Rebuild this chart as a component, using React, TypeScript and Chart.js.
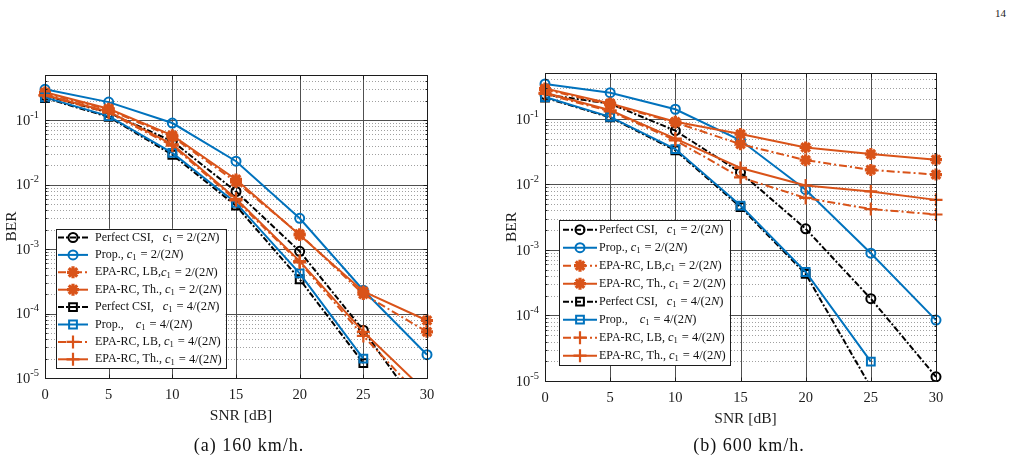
import { useEffect, useRef } from "react";
import { Chart, registerables } from "chart.js";
import { drawPoint } from "chart.js/helpers";

Chart.register(...registerables);

// ---- axes ----
const snrDb = [0, 5, 10, 15, 20, 25, 30];
const snrTicks = [0, 5, 10, 15, 20, 25, 30];
const berDecades = [-5, -4, -3, -2, -1];
const BER_MIN = 1e-5;
const BER_MAX = 0.5;

// ---- (a) 160 km/h ----
const perfectCsiC2At160 = [0.24, 0.13, 0.047, 0.0078, 9.2e-4, 5.5e-5, 2.3e-6];
const propC2At160 = [0.3, 0.19, 0.09, 0.023, 3.0e-3, 2.3e-4, 2.3e-5];
const epaLbC2At160 = [0.26, 0.145, 0.055, 0.011, 1.7e-3, 2.0e-4, 5.2e-5];
const epaThC2At160 = [0.27, 0.15, 0.058, 0.012, 1.65e-3, 2.2e-4, 7.8e-5];
const perfectCsiC4At160 = [0.22, 0.112, 0.029, 0.0047, 3.4e-4, 1.7e-5, null];
const propC4At160 = [0.225, 0.115, 0.031, 0.0052, 4.2e-4, 2.0e-5, null];
const epaLbC4At160 = [0.24, 0.13, 0.04, 0.0057, 6.2e-4, 4.5e-5, 4.0e-6];
const epaThC4At160 = [0.245, 0.135, 0.042, 0.006, 6.5e-4, 5.2e-5, 5.9e-6];

// ---- (b) 600 km/h ----
const perfectCsiC2At600 = [0.235, 0.17, 0.066, 0.0152, 0.0021, 1.8e-4, 1.16e-5];
const propC2At600 = [0.34, 0.25, 0.14, 0.047, 0.0083, 8.9e-4, 8.5e-5];
const epaLbC2At600 = [0.28, 0.165, 0.088, 0.041, 0.0234, 0.0166, 0.0141];
const epaThC2At600 = [0.29, 0.172, 0.09, 0.0585, 0.0366, 0.029, 0.0238];
const perfectCsiC4At600 = [0.21, 0.105, 0.033, 0.0045, 4.3e-4, 8e-6, null];
const propC4At600 = [0.215, 0.107, 0.0346, 0.00475, 4.6e-4, 1.97e-5, null];
const epaLbC4At600 = [0.24, 0.13, 0.047, 0.0128, 0.0062, 0.0042, 0.00347];
const epaThC4At600 = [0.25, 0.135, 0.05, 0.0178, 0.0096, 0.0078, 0.0058];

// ---- legend entries ----
const legendNames = [
  "Perfect CSI,   ",
  "Prop., ",
  "EPA-RC, LB,",
  "EPA-RC, Th., ",
  "Perfect CSI,   ",
  "Prop.,    ",
  "EPA-RC, LB, ",
  "EPA-RC, Th., ",
];
const legendCoefs = ["2", "2", "2", "2", "4", "4", "4", "4"];

const captionA = "(a) 160 km/h.";
const captionB = "(b) 600 km/h.";
const pageNumber = "14";

const SERIF = "'Liberation Serif', 'Times New Roman', serif";
const INK = "#1c1c1c";
const BLUE = "#0072BD";
const ORANGE = "#D95319";
const BLACK = "#000000";

type Marker = "circle" | "rect" | "star" | "cross";
interface SeriesStyle {
  color: string;
  dash: number[];
  marker: Marker;
}

const BLACK_DASH = [6, 2, 2, 2];
const ORANGE_DASH = [8, 3, 2, 3];

const seriesStyles: SeriesStyle[] = [
  { color: BLACK, dash: BLACK_DASH, marker: "circle" },
  { color: BLUE, dash: [], marker: "circle" },
  { color: ORANGE, dash: ORANGE_DASH, marker: "star" },
  { color: ORANGE, dash: [], marker: "star" },
  { color: BLACK, dash: BLACK_DASH, marker: "rect" },
  { color: BLUE, dash: [], marker: "rect" },
  { color: ORANGE, dash: ORANGE_DASH, marker: "cross" },
  { color: ORANGE, dash: [], marker: "cross" },
];

const markerRadius: Record<Marker, number> = { circle: 4.5, rect: 5.5, star: 6, cross: 6.5 };
const markerLine: Record<Marker, number> = { circle: 2, rect: 2, star: 3.2, cross: 2.2 };

interface LegendLayout {
  dx: number;
  bottomGap: number;
  rowH: number;
  padY: number;
  sampleX: number;
  sampleLen: number;
  textX: number;
}

interface PanelConfig {
  series: (number | null)[][];
  caption: string;
  left: number;
  width: number;
  height: number;
  padding: { left: number; top: number; right: number; bottom: number };
  legend: LegendLayout;
  captionX: number;
}

// Writes "name c1 = k/(2N)" with the math part in italics; returns the end x.
function legendLabel(
  ctx: CanvasRenderingContext2D,
  x: number,
  y: number,
  name: string,
  coef: string,
  draw: boolean
): number {
  const put = (txt: string, font: string, dy = 0) => {
    ctx.font = font;
    if (draw) ctx.fillText(txt, x, y + dy);
    x += ctx.measureText(txt).width;
  };
  put(name, `12px ${SERIF}`);
  put("c", `italic 12.5px ${SERIF}`);
  put("1", `8.5px ${SERIF}`, 3);
  x += 1;
  put(` = ${coef}/(2`, `12.5px ${SERIF}`);
  put("N", `italic 12.5px ${SERIF}`);
  put(")", `12.5px ${SERIF}`);
  return x;
}

function makeFigurePlugin(cfg: PanelConfig) {
  return {
    id: "berFigure",
    beforeDatasetsDraw(chart: any) {
      const { ctx, chartArea: a, scales } = chart;
      const ys = scales.y;
      const xs = scales.x;
      ctx.save();
      ctx.lineWidth = 1;
      // minor decade lines, dotted
      ctx.strokeStyle = "#a0a0a0";
      ctx.setLineDash([1, 2]);
      ctx.beginPath();
      for (const e of berDecades) {
        for (let m = 2; m <= 9; m++) {
          const v = m * Math.pow(10, e);
          if (v >= BER_MAX) continue;
          const py = Math.round(ys.getPixelForValue(v)) + 0.5;
          ctx.moveTo(a.left, py);
          ctx.lineTo(a.right, py);
        }
      }
      ctx.stroke();
      // major lines, solid
      ctx.setLineDash([]);
      ctx.strokeStyle = "#505050";
      ctx.beginPath();
      for (const e of berDecades) {
        const py = Math.round(ys.getPixelForValue(Math.pow(10, e))) + 0.5;
        ctx.moveTo(a.left, py);
        ctx.lineTo(a.right, py);
      }
      for (const t of snrTicks) {
        const px = Math.round(xs.getPixelForValue(t)) + 0.5;
        ctx.moveTo(px, a.top);
        ctx.lineTo(px, a.bottom);
      }
      ctx.stroke();
      ctx.restore();
    },
    afterDatasetsDraw(chart: any) {
      const { ctx, chartArea: a, scales } = chart;
      const ys = scales.y;
      const xs = scales.x;
      ctx.save();

      // axes box and inward ticks
      const L = Math.round(a.left) + 0.5;
      const R = Math.round(a.right) + 0.5;
      const T = Math.round(a.top) + 0.5;
      const B = Math.round(a.bottom) + 0.5;
      ctx.strokeStyle = INK;
      ctx.lineWidth = 1;
      ctx.setLineDash([]);
      ctx.beginPath();
      ctx.rect(L, T, R - L, B - T);
      for (const t of snrTicks) {
        const px = Math.round(xs.getPixelForValue(t)) + 0.5;
        ctx.moveTo(px, B);
        ctx.lineTo(px, B - 4);
        ctx.moveTo(px, T);
        ctx.lineTo(px, T + 4);
      }
      for (const e of berDecades) {
        for (let m = 1; m <= 9; m++) {
          const v = m * Math.pow(10, e);
          if (v >= BER_MAX) continue;
          const len = m === 1 ? 4 : 2;
          const py = Math.round(ys.getPixelForValue(v)) + 0.5;
          ctx.moveTo(L, py);
          ctx.lineTo(L + len, py);
          ctx.moveTo(R, py);
          ctx.lineTo(R - len, py);
        }
      }
      ctx.stroke();

      // tick labels
      ctx.fillStyle = INK;
      ctx.textBaseline = "middle";
      ctx.textAlign = "center";
      ctx.font = `14.5px ${SERIF}`;
      for (const t of snrTicks) {
        ctx.fillText(String(t), xs.getPixelForValue(t), a.bottom + 17);
      }
      ctx.textAlign = "left";
      for (const e of berDecades) {
        const py = ys.getPixelForValue(Math.pow(10, e));
        const sup = String(e);
        ctx.font = `10.5px ${SERIF}`;
        const supW = ctx.measureText(sup).width;
        ctx.font = `14.5px ${SERIF}`;
        const baseW = ctx.measureText("10").width;
        const xr = a.left - 6;
        ctx.fillText("10", xr - supW - baseW, py + 1);
        ctx.font = `10.5px ${SERIF}`;
        ctx.fillText(sup, xr - supW, py - 5);
      }

      // axis titles
      ctx.font = `15.5px ${SERIF}`;
      ctx.textAlign = "center";
      ctx.fillText("SNR [dB]", (a.left + a.right) / 2 + 5, a.bottom + 38);
      ctx.save();
      ctx.translate(a.left - 33, (a.top + a.bottom) / 2);
      ctx.rotate(-Math.PI / 2);
      ctx.fillText("BER", 0, 0);
      ctx.restore();

      // legend
      const lg = cfg.legend;
      const rows = chart.data.datasets.length;
      const boxH = lg.padY * 2 + lg.rowH * (rows - 1);
      const boxL = a.left + lg.dx;
      const boxB = a.bottom - lg.bottomGap;
      const boxT = boxB - boxH;
      ctx.textAlign = "left";
      ctx.textBaseline = "middle";
      let maxEnd = 0;
      for (let i = 0; i < rows; i++) {
        maxEnd = Math.max(maxEnd, legendLabel(ctx, boxL + lg.textX, 0, legendNames[i], legendCoefs[i], false));
      }
      const boxW = maxEnd - boxL + 4;
      ctx.fillStyle = "#ffffff";
      ctx.fillRect(boxL, boxT, boxW, boxH);
      ctx.strokeStyle = INK;
      ctx.lineWidth = 1;
      ctx.strokeRect(Math.round(boxL) + 0.5, Math.round(boxT) + 0.5, Math.round(boxW), Math.round(boxH));
      for (let i = 0; i < rows; i++) {
        const st = seriesStyles[i];
        const cy = boxT + lg.padY + i * lg.rowH;
        const x0 = boxL + lg.sampleX;
        const x1 = x0 + lg.sampleLen;
        ctx.strokeStyle = st.color;
        ctx.lineWidth = 2;
        ctx.setLineDash(st.dash);
        ctx.beginPath();
        ctx.moveTo(x0, cy);
        ctx.lineTo(x1, cy);
        ctx.stroke();
        ctx.setLineDash([]);
        ctx.lineWidth = markerLine[st.marker];
        ctx.fillStyle = "rgba(0,0,0,0)";
        drawPoint(
          ctx,
          { pointStyle: st.marker, radius: markerRadius[st.marker], rotation: 0, borderWidth: markerLine[st.marker] } as any,
          (x0 + x1) / 2,
          cy
        );
        ctx.fillStyle = "#111111";
        legendLabel(ctx, boxL + lg.textX, cy, legendNames[i], legendCoefs[i], true);
      }

      // sub-figure caption
      ctx.fillStyle = "#111111";
      ctx.textAlign = "center";
      ctx.font = `18px ${SERIF}`;
      (ctx as any).letterSpacing = "1px";
      ctx.fillText(cfg.caption, cfg.captionX, 446);
      (ctx as any).letterSpacing = "0px";

      ctx.restore();
    },
  };
}

function BerPanel({ cfg }: { cfg: PanelConfig }) {
  const ref = useRef<HTMLCanvasElement>(null);
  useEffect(() => {
    const canvas = ref.current;
    if (!canvas) return;
    const chart = new Chart(canvas, {
      type: "line",
      data: {
        datasets: cfg.series.map((vals, i) => {
          const st = seriesStyles[i];
          return {
            label: `${legendNames[i].trim()} c1 = ${legendCoefs[i]}/(2N)`,
            data: snrDb.map((x, k) => ({ x, y: vals[k] })),
            borderColor: st.color,
            borderWidth: 2,
            borderDash: st.dash,
            pointStyle: st.marker,
            pointRadius: markerRadius[st.marker],
            pointHoverRadius: markerRadius[st.marker],
            pointBorderWidth: markerLine[st.marker],
            pointBorderColor: st.color,
            pointBackgroundColor: "rgba(0,0,0,0)",
            fill: false,
            tension: 0,
            spanGaps: false,
            order: -i,
            clip: { left: 10, right: 10, top: 10, bottom: 1 },
          } as any;
        }),
      },
      options: {
        animation: false,
        responsive: false,
        maintainAspectRatio: false,
        events: [],
        layout: { padding: cfg.padding },
        plugins: {
          legend: { display: false },
          tooltip: { enabled: false },
          title: { display: false },
        },
        scales: {
          x: { type: "linear", min: 0, max: 30, display: false },
          y: { type: "logarithmic", min: BER_MIN, max: BER_MAX, display: false },
        },
      },
      plugins: [makeFigurePlugin(cfg)],
    });
    return () => chart.destroy();
  }, [cfg]);
  return (
    <canvas
      ref={ref}
      width={cfg.width}
      height={cfg.height}
      style={{ position: "absolute", left: cfg.left, top: 0, width: cfg.width, height: cfg.height }}
    />
  );
}

const panelA: PanelConfig = {
  series: [
    perfectCsiC2At160,
    propC2At160,
    epaLbC2At160,
    epaThC2At160,
    perfectCsiC4At160,
    propC4At160,
    epaLbC4At160,
    epaThC4At160,
  ],
  caption: captionA,
  left: 0,
  width: 500,
  height: 463,
  padding: { left: 45, top: 75, right: 73, bottom: 85 },
  legend: { dx: 11, bottomGap: 10, rowH: 17.4, padY: 8.7, sampleX: 2, sampleLen: 30, textX: 39 },
  captionX: 249,
};

const panelB: PanelConfig = {
  series: [
    perfectCsiC2At600,
    propC2At600,
    epaLbC2At600,
    epaThC2At600,
    perfectCsiC4At600,
    propC4At600,
    epaLbC4At600,
    epaThC4At600,
  ],
  caption: captionB,
  left: 500,
  width: 520,
  height: 463,
  padding: { left: 45, top: 73, right: 84, bottom: 82 },
  legend: { dx: 14, bottomGap: 16, rowH: 18, padY: 9.3, sampleX: 4, sampleLen: 34, textX: 40 },
  captionX: 249,
};

export default function App() {
  return (
    <div
      style={{
        position: "fixed",
        left: 0,
        top: 0,
        width: 1020,
        height: 463,
        background: "#ffffff",
        overflow: "hidden",
      }}
    >
      <div
        style={{
          position: "absolute",
          left: 995,
          top: 7,
          fontFamily: SERIF,
          fontSize: 11,
          color: "#222",
        }}
      >
        {pageNumber}
      </div>
      <BerPanel cfg={panelA} />
      <BerPanel cfg={panelB} />
    </div>
  );
}
